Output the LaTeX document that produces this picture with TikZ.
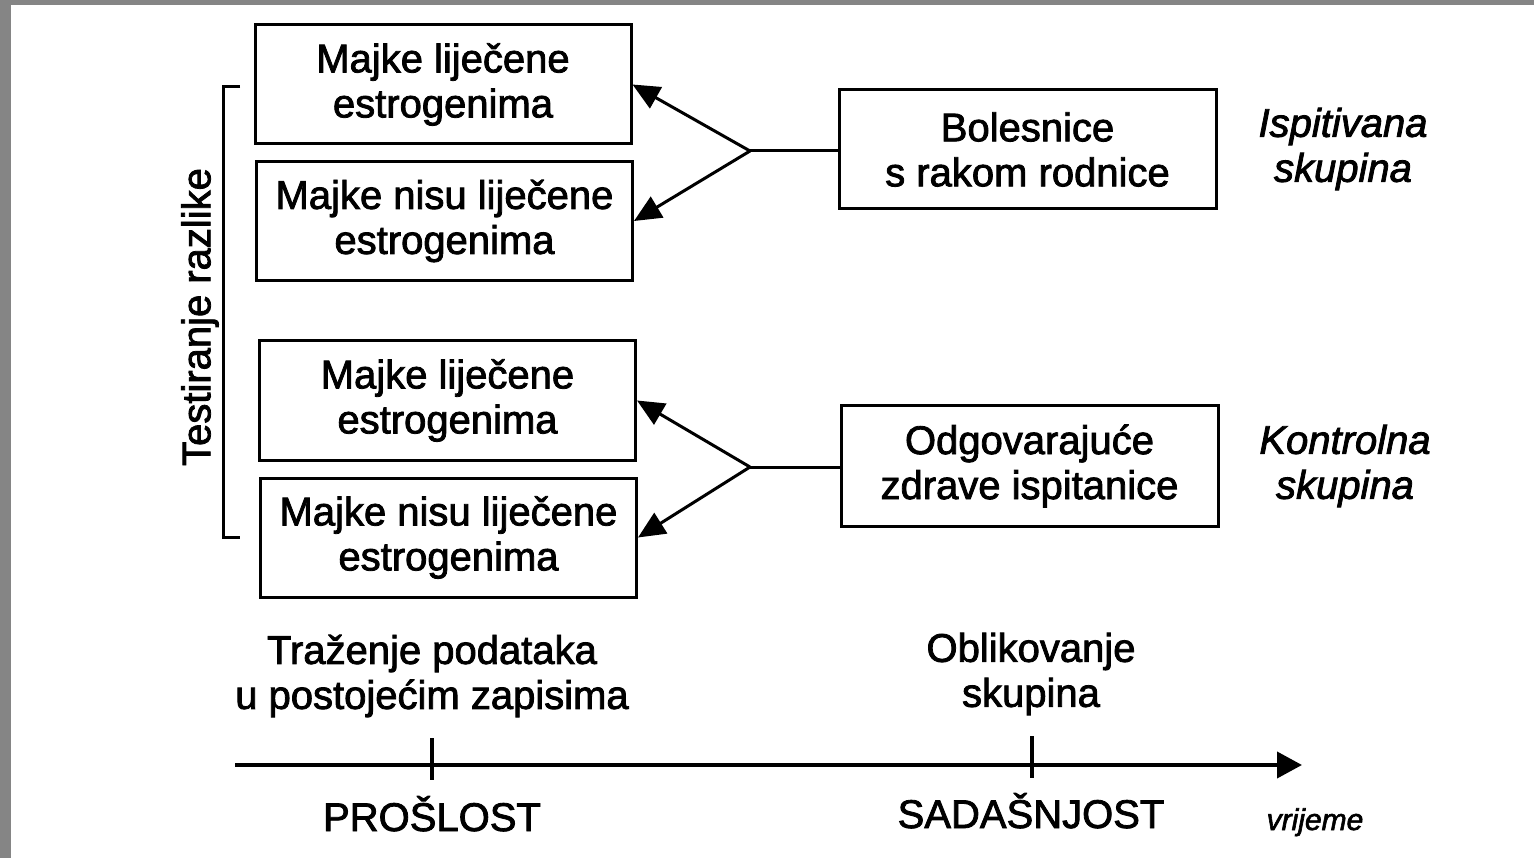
\documentclass[tikz,border=0pt]{standalone}
\usepackage{fontspec}
\setmainfont{Liberation Sans}[FakeBold=2]
\usetikzlibrary{arrows.meta}
\begin{document}
\begin{tikzpicture}[x=1pt,y=-1pt,
  bigtext/.style={font=\fontsize{40}{45}\selectfont, align=center, inner sep=0pt},
  boxnode/.style={bigtext, draw, line width=3pt, minimum width=376pt, minimum height=119pt},
  link/.style={line width=3pt},
  arrowlink/.style={link, -{Triangle[length=27pt,width=24pt]}},
  itlabel/.style={bigtext, font=\fontsize{40}{45}\selectfont\itshape},
  axisline/.style={line width=4pt}
]
% page and scanned edge
\useasboundingbox (0,0) rectangle (1534,858);
\fill[white] (0,0) rectangle (1534,858);
\fill[black!48] (0,0) rectangle (11,858);
\fill[black!48] (0,0) rectangle (1534,5);

% left column: data sought in existing records
\node[boxnode] (b1) at (443,84.5) {Majke liječene\\estrogenima};
\node[boxnode] (b2) at (444.5,221) {Majke nisu liječene\\estrogenima};
\node[boxnode] (b3) at (447.5,400.5) {Majke liječene\\estrogenima};
\node[boxnode] (b4) at (448.5,537.5) {Majke nisu liječene\\estrogenima};

% right column: the two groups
\node[boxnode, minimum width=377pt] (g1) at (1027.5,149.5) {Bolesnice\\s rakom rodnice};
\node[boxnode, minimum width=377pt, minimum height=120pt] (g2) at (1029.5,466) {Odgovarajuće\\zdrave ispitanice};

% group labels
\node[itlabel] (l1) at (1343,149) {Ispitivana\\skupina};
\node[itlabel] (l2) at (1345,466) {Kontrolna\\skupina};

% forks from each group back to the records
\coordinate (j1) at (750,151);
\coordinate (j2) at (750,467);
\draw[link] (g1.west |- j1) -- (j1);
\draw[arrowlink] (j1) -- (b1.east);
\draw[arrowlink] (j1) -- (b2.east);
\draw[link] (g2.west |- j2) -- (j2);
\draw[arrowlink] (j2) -- (b3.east);
\draw[arrowlink] (j2) -- (b4.east);

% bracket with its label
\coordinate (bt) at (240,87);
\coordinate (bb) at (240,537);
\draw[link] (bt) -- ++(-17,0) |- (bb);
\node[bigtext, rotate=90] (test) at (200,317) {Testiranje razlike};

% phase labels above the time axis
\node[bigtext] (past) at (432,676) {Traženje podataka\\u postojećim zapisima};
\node[bigtext] (now) at (1031,674) {Oblikovanje\\skupina};

% time axis
\coordinate (a0) at (235,765);
\coordinate (a1) at (1302,765);
\draw[axisline, -{Triangle[length=25pt,width=26pt]}] (a0) -- (a1);
\coordinate (t1) at (432,765);
\coordinate (t2) at (1032,765);
\draw[axisline] (t1) ++(0,-27) -- ++(0,42);
\draw[axisline] (t2) ++(0,-29) -- ++(0,42);

\node[bigtext, anchor=base] (pl) at (432,831) {PROŠLOST};
\node[bigtext, anchor=base] (pr) at (1031,828) {SADAŠNJOST};
\node[bigtext, font=\fontsize{30}{34}\selectfont\itshape, anchor=base] (vr) at (1315,830) {vrijeme};
\end{tikzpicture}
\end{document}
